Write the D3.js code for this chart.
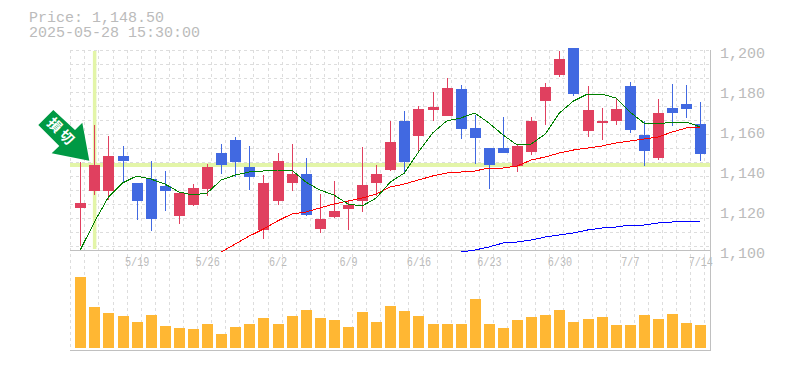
<!DOCTYPE html>
<html>
<head>
<meta charset="utf-8">
<script src="https://cdn.jsdelivr.net/npm/d3@7"></script>
<style>
  html, body { margin: 0; padding: 0; background: #fff; }
  svg { display: block; }
  text { font-family: "Liberation Mono", monospace; fill: #bbb; }
</style>
</head>
<body>
<svg id="chart" width="785" height="370"></svg>
<script>
// bars, oldest first
const tickIndex = [4, 9, 14, 19, 24, 29, 34, 39, 44];
const tickLabels = ["5/19", "5/26", "6/2", "6/9", "6/16", "6/23", "6/30", "7/7", "7/14"];
const priceTicks = [1100, 1120, 1140, 1160, 1180, 1200];

const opens = [1121.5, 1130, 1130, 1147.5, 1134, 1136, 1132.5, 1117.5, 1123, 1131, 1149, 1155.5, 1142, 1110.5, 1125, 1134, 1138.5, 1111, 1117, 1121, 1125, 1134, 1140.5, 1165, 1157.5, 1170.5, 1167.5, 1181, 1161.5, 1151.5, 1151.5, 1142.5, 1149.5, 1175, 1188, 1201.5, 1160, 1164, 1165, 1182.5, 1158, 1146.5, 1171.5, 1173.5, 1163.5];
const closes = [1124, 1143, 1147.5, 1145, 1125, 1116, 1130, 1129, 1131.5, 1142, 1143, 1144.5, 1137, 1134, 1145, 1138.5, 1118, 1116, 1120, 1123, 1133, 1138.5, 1154.5, 1144.5, 1171, 1172, 1181.5, 1161, 1156.5, 1143, 1149, 1152.5, 1165, 1182, 1196, 1178.5, 1170.5, 1165, 1171, 1160.5, 1150, 1169, 1169, 1171, 1148.5];
const highs = [1144.5, 1163, 1157.5, 1152.5, 1134, 1145, 1140, 1129, 1133.5, 1143.5, 1153.5, 1157, 1152.5, 1138, 1149, 1153.5, 1146.5, 1128.5, 1135, 1125, 1152, 1143, 1165, 1170, 1172.5, 1179.5, 1186.5, 1183, 1168, 1151.5, 1167, 1153, 1167, 1184, 1200, 1201.5, 1182.5, 1171.5, 1176.5, 1184.5, 1165, 1176, 1183.5, 1183, 1174.5];
const lows = [1102.5, 1128, 1125.5, 1134, 1115.5, 1110, 1120, 1113.5, 1122.5, 1127.5, 1138.5, 1137, 1130.5, 1106, 1123, 1130, 1117.5, 1109, 1116.5, 1110.5, 1119.5, 1127.5, 1140, 1138.5, 1150, 1165, 1167.5, 1156, 1143.5, 1131, 1149, 1139.5, 1148, 1163, 1187, 1177.5, 1157, 1155.5, 1163, 1159, 1142.5, 1145.5, 1162.5, 1166.5, 1145];
const volumes = [71, 41, 35, 32, 26, 33, 22, 20, 19, 24, 14, 21, 24, 30, 24, 32, 38, 30, 28, 21, 36, 26, 42, 37, 32, 24, 24, 24, 49, 24, 20, 28, 31, 33, 38, 26, 29, 31, 23, 23, 33, 29, 34, 25, 23];

// moving averages, null until the line starts
const maShort = [1100.5, 1114.5, 1127, 1134, 1137.5, 1136, 1133.5, 1129.5, 1128, 1129, 1135.5, 1138, 1139.5, 1140, 1140.5, 1140.5, 1134.5, 1130.5, 1128, 1123.5, 1122.5, 1126.5, 1134.5, 1139, 1149.5, 1159, 1165, 1166.5, 1169, 1164, 1158, 1153, 1153.5, 1158.5, 1169, 1175, 1178.5, 1178.5, 1176.5, 1169.5, 1164, 1163.5, 1164.5, 1164.5, 1162];
const maMid = [null, null, null, null, null, null, null, null, null, null, 1099.5, 1103.5, 1107.5, 1111, 1115, 1118.5, 1119.5, 1121.5, 1123.5, 1125, 1126.5, 1128.5, 1132, 1133.5, 1135.5, 1137.5, 1139, 1139.5, 1140, 1141.5, 1141.5, 1142.5, 1145.5, 1147, 1149, 1150.5, 1151.5, 1152.5, 1154, 1155, 1156, 1157, 1159.5, 1161.5, 1162];
const maLong = [null, null, null, null, null, null, null, null, null, null, null, null, null, null, null, null, null, null, null, null, null, null, null, null, null, null, null, 1099.5, 1100.5, 1102, 1104, 1104.5, 1105.5, 1107, 1108, 1109, 1110.5, 1111.5, 1112, 1113, 1113, 1114, 1114.5, 1115, 1115];

const markIndex = 1;
const markPrice = 1143;

const svg = d3.select("#chart");
const left = 70, right = 710;

let x = d3.scaleLinear().domain([0, 44]).range([80.3, 700.3]);
let y = d3.scaleLinear().domain([1100, 1200]).range([251, 51]);
let yVol = d3.scaleLinear().domain([0, 71]).range([348, 277]);

function px(v) { return Math.round(v) + 0.5; }

svg.append("text").attr("x", 29).attr("y", 22).style("font-size", "15px").text("Price: " + d3.format(",.2f")(closes[closes.length - 1]));
svg.append("text").attr("x", 29).attr("y", 37).style("font-size", "15px").text("2025-05-28 15:30:00");

// grid, vertical lines run through both panels
let grid = svg.append("g")
  .attr("stroke", "#ddd")
  .attr("stroke-dasharray", "3,3")
  .attr("shape-rendering", "crispEdges");

grid.selectAll("line.v").data(d3.range(0, 46))
  .enter().append("line")
    .attr("class", "v")
    .attr("x1", function(d) { return px(x(d - 0.71)); })
    .attr("x2", function(d) { return px(x(d - 0.71)); })
    .attr("y1", 50)
    .attr("y2", 350);

grid.selectAll("line.h").data(d3.range(50, 247, 14))
  .enter().append("line")
    .attr("class", "h")
    .attr("x1", left)
    .attr("x2", right)
    .attr("y1", function(d) { return d + 0.5; })
    .attr("y2", function(d) { return d + 0.5; });

// highlight cross
svg.append("rect")
  .attr("x", x(markIndex) - 1.5).attr("width", 3.5)
  .attr("y", 51).attr("height", 198)
  .attr("fill", "#e3f5a8");
svg.append("rect")
  .attr("x", left).attr("width", right - left)
  .attr("y", y(markPrice) - 2).attr("height", 4)
  .attr("fill", "#e3f5a8");

// panel frame
let frame = svg.append("g").attr("stroke", "#c0c0c0").attr("shape-rendering", "crispEdges");
frame.append("line").attr("x1", left).attr("x2", right).attr("y1", 250.5).attr("y2", 250.5);
frame.append("line").attr("x1", left).attr("x2", right).attr("y1", 350.5).attr("y2", 350.5);
frame.append("line").attr("x1", right + 0.5).attr("x2", right + 0.5).attr("y1", 50).attr("y2", 351);

// candles
let colour = function(i) { return closes[i] >= opens[i] ? "#e0405f" : "#4169e1"; };
let candles = svg.append("g").attr("shape-rendering", "crispEdges");

candles.selectAll("line").data(d3.range(opens.length))
  .enter().append("line")
    .attr("x1", function(i) { return px(x(i)); })
    .attr("x2", function(i) { return px(x(i)); })
    .attr("y1", function(i) { return y(highs[i]); })
    .attr("y2", function(i) { return y(lows[i]); })
    .attr("stroke", colour);

candles.selectAll("rect").data(d3.range(opens.length))
  .enter().append("rect")
    .attr("x", function(i) { return Math.round(x(i)) - 5; })
    .attr("width", 11)
    .attr("y", function(i) { return y(Math.max(opens[i], closes[i])); })
    .attr("height", function(i) { return Math.abs(y(opens[i]) - y(closes[i])); })
    .attr("fill", colour);

// volume
svg.append("g").selectAll("rect").data(volumes)
  .enter().append("rect")
    .attr("x", function(d, i) { return Math.round(x(i)) - 5; })
    .attr("width", 11)
    .attr("y", function(d) { return yVol(d); })
    .attr("height", function(d) { return yVol(0) - yVol(d); })
    .attr("fill", "#ffb733")
    .attr("shape-rendering", "crispEdges");

// moving averages, clipped to the price panel
svg.append("clipPath").attr("id", "priceClip")
  .append("rect").attr("x", left).attr("y", 48).attr("width", right - left).attr("height", 206);

let line = d3.line()
  .defined(function(d) { return d !== null; })
  .x(function(d, i) { return x(i); })
  .y(function(d) { return y(d); });

[[maLong, "#0000ff"], [maMid, "#ff0000"], [maShort, "#008000"]].forEach(function(s) {
  svg.append("path")
    .datum(s[0])
    .attr("d", line)
    .attr("fill", "none")
    .attr("stroke", s[1])
    .attr("clip-path", "url(#priceClip)")
    .attr("shape-rendering", "crispEdges");
});

// axes
let yAxis = svg.append("g")
  .attr("transform", "translate(720,2)")
  .call(d3.axisRight(y).tickValues(priceTicks).tickFormat(d3.format(",")).tickSize(0).tickPadding(0));
yAxis.select(".domain").remove();
yAxis.selectAll("text").style("font-size", "15px").style("font-family", null);

// date labels are tall and narrow in the original, so squeeze them sideways
let xAxis = svg.append("g")
  .attr("transform", "translate(0,266)")
  .call(d3.axisBottom(x).tickValues(tickIndex).tickFormat(function(d, i) { return tickLabels[i]; }).tickSize(0).tickPadding(0));
xAxis.select(".domain").remove();
xAxis.selectAll("text")
  .attr("y", 0).attr("dy", 0)
  .attr("transform", "scale(0.75,1)")
  .style("font-size", "13.5px")
  .style("font-family", null);

// arrow marker
svg.append("polygon")
  .attr("points", "53.3,110 38.3,125 59.3,146 51.7,153.3 89.3,160.7 82.3,122.7 75,130")
  .attr("fill", "#009944");
svg.append("text")
  .attr("transform", "translate(62,132) rotate(45)")
  .attr("text-anchor", "middle")
  .attr("dy", "0.38em")
  .style("font-family", "'Noto Sans CJK JP'")
  .style("font-size", "14px")
  .style("font-weight", "700")
  .style("letter-spacing", "3px")
  .style("fill", "#fff")
  .text("損切");
</script>
</body>
</html>
